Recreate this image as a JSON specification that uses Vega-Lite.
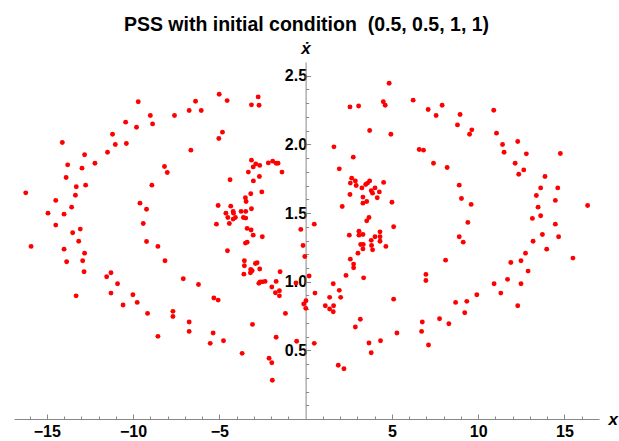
{
  "$schema": "https://vega.github.io/schema/vega-lite/v6.json",
  "width": 585,
  "height": 357,
  "autosize": "none",
  "padding": {"left": 14, "top": 62, "right": 20, "bottom": 22},
  "background": "white",
  "title": {
    "text": "PSS with initial condition\u00a0 (0.5, 0.5, 1, 1)",
    "font": "Liberation Sans",
    "fontWeight": "bold",
    "fontSize": 19.5,
    "color": "black",
    "anchor": "middle",
    "frame": "group",
    "baseline": "alphabetic",
    "offset": -11
  },
  "config": {"view": {"stroke": null}},
  "data": {
    "values": [
      {"x": -16.22, "y": 1.647}, {"x": -14.93, "y": 1.499}, {"x": -14.48, "y": 1.592}, {"x": -14.48, "y": 1.412}, {"x": -14.1, "y": 2.014},
      {"x": -14.0, "y": 1.492}, {"x": -13.88, "y": 1.759}, {"x": -13.79, "y": 1.851}, {"x": -13.56, "y": 1.543}, {"x": -13.34, "y": 1.63},
      {"x": -13.29, "y": 1.691}, {"x": -13.06, "y": 1.383}, {"x": -12.96, "y": 1.827}, {"x": -12.81, "y": 1.924}, {"x": -12.75, "y": 1.703},
      {"x": -12.21, "y": 1.863}, {"x": -11.48, "y": 1.943}, {"x": -11.19, "y": 2.074}, {"x": -11.03, "y": 1.999}, {"x": -10.43, "y": 2.162},
      {"x": -10.39, "y": 2.006}, {"x": -9.8, "y": 2.125}, {"x": -9.7, "y": 2.31}, {"x": -9.6, "y": 1.572}, {"x": -9.41, "y": 1.424},
      {"x": -9.22, "y": 1.528}, {"x": -9.0, "y": 2.21}, {"x": -8.91, "y": 1.703}, {"x": -8.87, "y": 2.149}, {"x": -8.18, "y": 1.839},
      {"x": -8.02, "y": 1.795}, {"x": -7.6, "y": 2.21}, {"x": -6.75, "y": 2.247}, {"x": -6.65, "y": 1.958}, {"x": -6.38, "y": 2.314},
      {"x": -6.05, "y": 2.247}, {"x": -5.17, "y": 1.419}, {"x": -5.07, "y": 1.555}, {"x": -5.03, "y": 2.043}, {"x": -5.01, "y": 2.365},
      {"x": -4.82, "y": 2.089}, {"x": -4.62, "y": 1.499}, {"x": -4.55, "y": 2.319}, {"x": -4.51, "y": 1.468}, {"x": -4.42, "y": 1.424},
      {"x": -4.38, "y": 1.742}, {"x": -4.34, "y": 1.55}, {"x": -4.2, "y": 1.512}, {"x": -4.18, "y": 1.499}, {"x": -4.2, "y": 1.456},
      {"x": -4.07, "y": 1.468}, {"x": -3.74, "y": 1.512}, {"x": -3.61, "y": 1.468}, {"x": -3.47, "y": 1.463}, {"x": -3.47, "y": 1.512},
      {"x": -3.49, "y": 1.611}, {"x": -3.45, "y": 1.584}, {"x": -3.39, "y": 1.388}, {"x": -3.32, "y": 1.798}, {"x": -3.18, "y": 1.64},
      {"x": -3.14, "y": 2.288}, {"x": -3.14, "y": 1.531}, {"x": -3.14, "y": 1.885}, {"x": -3.16, "y": 1.376}, {"x": -3.04, "y": 1.836},
      {"x": -3.03, "y": 1.734}, {"x": -2.89, "y": 1.858}, {"x": -2.75, "y": 2.346}, {"x": -2.7, "y": 2.285}, {"x": -2.68, "y": 1.766},
      {"x": -2.66, "y": 1.847}, {"x": -2.54, "y": 1.654}, {"x": -2.16, "y": 1.865}, {"x": -1.91, "y": 1.878}, {"x": -1.71, "y": 1.863},
      {"x": -1.6, "y": 1.863}, {"x": -1.37, "y": 1.798}, {"x": -0.28, "y": 1.381},
      {"x": -15.91, "y": 1.257}, {"x": -14.0, "y": 1.237}, {"x": -13.5, "y": 1.356}, {"x": -13.15, "y": 1.295}, {"x": -12.81, "y": 1.208},
      {"x": -13.85, "y": 1.145}, {"x": -12.92, "y": 1.152}, {"x": -12.84, "y": 1.072}, {"x": -13.3, "y": 0.897}, {"x": -11.53, "y": 1.036},
      {"x": -11.28, "y": 1.065}, {"x": -10.9, "y": 0.985}, {"x": -11.28, "y": 0.917}, {"x": -10.58, "y": 0.83}, {"x": -10.01, "y": 0.905},
      {"x": -9.76, "y": 0.849}, {"x": -9.22, "y": 1.293}, {"x": -8.56, "y": 1.257}, {"x": -8.15, "y": 1.152}, {"x": -9.16, "y": 0.769},
      {"x": -8.56, "y": 0.602}, {"x": -7.69, "y": 0.784}, {"x": -7.69, "y": 0.747}, {"x": -7.09, "y": 1.021}, {"x": -6.75, "y": 0.706},
      {"x": -6.75, "y": 0.638}, {"x": -6.21, "y": 0.98}, {"x": -5.53, "y": 0.551}, {"x": -5.36, "y": 0.626}, {"x": -5.32, "y": 0.881},
      {"x": -5.07, "y": 0.866}, {"x": -4.76, "y": 0.57}, {"x": -4.53, "y": 1.225}, {"x": -3.68, "y": 0.478}, {"x": -3.04, "y": 1.339},
      {"x": -3.39, "y": 1.288}, {"x": -3.49, "y": 1.281}, {"x": -2.51, "y": 1.327}, {"x": -3.55, "y": 1.152}, {"x": -3.55, "y": 1.116},
      {"x": -3.58, "y": 1.055}, {"x": -3.18, "y": 1.09}, {"x": -3.1, "y": 1.08}, {"x": -3.2, "y": 1.065}, {"x": -2.91, "y": 1.133},
      {"x": -2.81, "y": 1.138}, {"x": -2.66, "y": 1.092}, {"x": -2.71, "y": 0.988}, {"x": -2.64, "y": 0.999}, {"x": -2.51, "y": 0.999},
      {"x": -2.35, "y": 1.002}, {"x": -1.96, "y": 0.961}, {"x": -1.48, "y": 1.072}, {"x": -1.71, "y": 1.002}, {"x": -1.52, "y": 0.934},
      {"x": -1.75, "y": 0.919}, {"x": -1.52, "y": 0.897}, {"x": -1.17, "y": 0.769}, {"x": -3.08, "y": 0.689}, {"x": -1.71, "y": 0.595},
      {"x": -0.52, "y": 0.566}, {"x": -2.12, "y": 0.442}, {"x": -1.96, "y": 0.41}, {"x": -1.93, "y": 0.282}, {"x": -0.15, "y": 1.264},
      {"x": -0.05, "y": 1.184}, {"x": 0.2, "y": 1.041}, {"x": -0.11, "y": 0.837}, {"x": 0.02, "y": 0.861}, {"x": 0.01, "y": 0.806},
      {"x": -0.56, "y": 0.99},
      {"x": 4.84, "y": 2.445}, {"x": 2.57, "y": 2.273}, {"x": 3.07, "y": 2.28}, {"x": 4.5, "y": 2.31}, {"x": 4.61, "y": 2.285},
      {"x": 3.71, "y": 2.101}, {"x": 4.94, "y": 2.074}, {"x": 6.23, "y": 2.322}, {"x": 7.1, "y": 2.254}, {"x": 7.56, "y": 2.21},
      {"x": 7.91, "y": 2.285}, {"x": 8.8, "y": 2.142}, {"x": 8.95, "y": 2.218}, {"x": 9.5, "y": 2.074}, {"x": 9.63, "y": 2.106},
      {"x": 10.9, "y": 2.249}, {"x": 11.06, "y": 2.082}, {"x": 11.41, "y": 1.999}, {"x": 11.5, "y": 1.943}, {"x": 12.29, "y": 2.021},
      {"x": 12.79, "y": 1.931}, {"x": 12.14, "y": 1.863}, {"x": 12.64, "y": 1.814}, {"x": 12.35, "y": 1.783}, {"x": 13.87, "y": 1.766},
      {"x": 14.76, "y": 1.934}, {"x": 13.62, "y": 1.683}, {"x": 13.37, "y": 1.628}, {"x": 14.61, "y": 1.683}, {"x": 14.47, "y": 1.592},
      {"x": 13.47, "y": 1.543}, {"x": 13.62, "y": 1.48}, {"x": 13.14, "y": 1.461}, {"x": 14.47, "y": 1.419}, {"x": 16.34, "y": 1.555},
      {"x": 1.64, "y": 1.982}, {"x": 2.76, "y": 1.907}, {"x": 1.95, "y": 1.822}, {"x": 6.58, "y": 1.963}, {"x": 6.83, "y": 1.958},
      {"x": 7.41, "y": 1.863}, {"x": 8.2, "y": 1.832}, {"x": 8.9, "y": 1.703}, {"x": 9.03, "y": 1.606}, {"x": 9.59, "y": 1.563},
      {"x": 9.4, "y": 1.432}, {"x": 2.12, "y": 1.548}, {"x": 0.5, "y": 1.419}, {"x": 2.57, "y": 1.635}, {"x": 2.59, "y": 1.718},
      {"x": 2.67, "y": 1.754}, {"x": 2.88, "y": 1.734}, {"x": 2.93, "y": 1.701}, {"x": 3.26, "y": 1.683}, {"x": 3.48, "y": 1.708},
      {"x": 3.59, "y": 1.718}, {"x": 3.71, "y": 1.734}, {"x": 3.32, "y": 1.616}, {"x": 3.32, "y": 1.572}, {"x": 3.54, "y": 1.584},
      {"x": 3.8, "y": 1.662}, {"x": 3.88, "y": 1.645}, {"x": 4.02, "y": 1.683}, {"x": 4.15, "y": 1.611}, {"x": 4.27, "y": 1.654},
      {"x": 4.52, "y": 1.723}, {"x": 5.0, "y": 1.579}, {"x": 3.67, "y": 1.468}, {"x": 3.54, "y": 1.443}, {"x": 5.1, "y": 1.4},
      {"x": 0.54, "y": 0.917}, {"x": 0.5, "y": 0.551}, {"x": 2.53, "y": 1.339}, {"x": 3.09, "y": 1.368}, {"x": 3.09, "y": 1.339},
      {"x": 3.32, "y": 1.344}, {"x": 3.19, "y": 1.271}, {"x": 3.34, "y": 1.271}, {"x": 3.32, "y": 1.239}, {"x": 3.03, "y": 1.208},
      {"x": 3.8, "y": 1.301}, {"x": 4.02, "y": 1.327}, {"x": 4.31, "y": 1.363}, {"x": 4.31, "y": 1.327}, {"x": 4.31, "y": 1.295},
      {"x": 3.82, "y": 1.264}, {"x": 3.88, "y": 1.232}, {"x": 4.65, "y": 1.257}, {"x": 2.59, "y": 1.164}, {"x": 2.78, "y": 1.128},
      {"x": 2.78, "y": 1.101}, {"x": 2.34, "y": 1.046}, {"x": 3.36, "y": 1.028}, {"x": 1.6, "y": 0.985}, {"x": 1.95, "y": 0.937},
      {"x": 2.03, "y": 0.886}, {"x": 1.39, "y": 0.886}, {"x": 1.14, "y": 0.825}, {"x": 1.39, "y": 0.801}, {"x": 1.62, "y": 0.825},
      {"x": 1.6, "y": 0.781}, {"x": 3.17, "y": 0.726}, {"x": 2.88, "y": 0.67}, {"x": 5.1, "y": 0.873}, {"x": 5.29, "y": 0.626},
      {"x": 3.67, "y": 0.553}, {"x": 4.34, "y": 0.57}, {"x": 3.8, "y": 0.483}, {"x": 1.89, "y": 0.391}, {"x": 2.22, "y": 0.366},
      {"x": 8.9, "y": 1.327}, {"x": 9.13, "y": 1.288}, {"x": 8.11, "y": 1.157}, {"x": 6.97, "y": 1.053}, {"x": 6.97, "y": 1.009},
      {"x": 6.76, "y": 0.706}, {"x": 6.72, "y": 0.638}, {"x": 7.12, "y": 0.539}, {"x": 7.76, "y": 0.73}, {"x": 8.3, "y": 0.694},
      {"x": 8.69, "y": 0.849}, {"x": 9.22, "y": 0.774}, {"x": 9.34, "y": 0.857}, {"x": 9.92, "y": 0.905}, {"x": 10.92, "y": 0.985},
      {"x": 11.31, "y": 0.917}, {"x": 11.7, "y": 1.017}, {"x": 12.29, "y": 0.825}, {"x": 12.48, "y": 0.985}, {"x": 12.89, "y": 1.077},
      {"x": 11.89, "y": 1.14}, {"x": 12.48, "y": 1.152}, {"x": 12.74, "y": 1.208}, {"x": 13.18, "y": 1.295}, {"x": 13.72, "y": 1.344},
      {"x": 13.97, "y": 1.237}, {"x": 14.66, "y": 1.327}, {"x": 15.49, "y": 1.172}
    ]
  },
  "mark": {"type": "circle", "size": 24, "color": "#ff0000", "opacity": 1},
  "encoding": {
    "x": {
      "field": "x",
      "type": "quantitative",
      "scale": {"domain": [-16.9, 17.0], "nice": false, "zero": false},
      "axis": {
        "orient": "bottom",
        "values": [-16, -15, -14, -13, -12, -11, -10, -9, -8, -7, -6, -5, -4, -3, -2, -1, 1, 2, 3, 4, 5, 6, 7, 8, 9, 10, 11, 12, 13, 14, 15, 16],
        "labelExpr": "datum.value % 5 === 0 ? (datum.value < 0 ? '\u2212' + abs(datum.value) : '' + datum.value) : ''",
        "labelFont": "Liberation Sans",
        "labelFontWeight": "bold",
        "labelFontSize": 16,
        "labelColor": "black",
        "labelOverlap": false,
        "labelFlush": false,
        "labelPadding": 9,
        "tickSize": {"condition": {"test": "datum.value % 5 === 0", "value": -5}, "value": -3},
        "tickColor": "#888888",
        "tickWidth": 1,
        "domainColor": "#888888",
        "domainWidth": 1,
        "grid": false,
        "title": "x",
        "titleFont": "Liberation Sans",
        "titleFontStyle": "italic",
        "titleFontWeight": "bold",
        "titleFontSize": 17,
        "titleColor": "black",
        "titleAngle": 0,
        "titleAlign": "left",
        "titleBaseline": "middle",
        "titleX": 594,
        "titleY": 0
      }
    },
    "y": {
      "field": "y",
      "type": "quantitative",
      "scale": {"domain": [0, 2.6], "nice": false, "zero": false},
      "axis": {
        "orient": "left",
        "offset": -291.6,
        "values": [0.1, 0.2, 0.3, 0.4, 0.5, 0.6, 0.7, 0.8, 0.9, 1.0, 1.1, 1.2, 1.3, 1.4, 1.5, 1.6, 1.7, 1.8, 1.9, 2.0, 2.1, 2.2, 2.3, 2.4, 2.5],
        "labelExpr": "round(datum.value * 10) % 5 === 0 ? format(datum.value, '.1f') : ''",
        "labelFont": "Liberation Sans",
        "labelFontWeight": "bold",
        "labelFontSize": 16,
        "labelColor": "black",
        "labelOverlap": false,
        "labelFlush": false,
        "labelPadding": 4,
        "tickSize": {"condition": {"test": "round(datum.value * 10) % 5 === 0", "value": -5}, "value": -3},
        "tickColor": "#888888",
        "tickWidth": 1,
        "domainColor": "#888888",
        "domainWidth": 1,
        "grid": false,
        "title": "\u1e8b",
        "titleFont": "Liberation Sans",
        "titleFontStyle": "italic",
        "titleFontWeight": "bold",
        "titleFontSize": 17,
        "titleColor": "black",
        "titleAngle": 0,
        "titleAlign": "center",
        "titleBaseline": "alphabetic",
        "titleX": 0,
        "titleY": -9
      }
    }
  }
}
